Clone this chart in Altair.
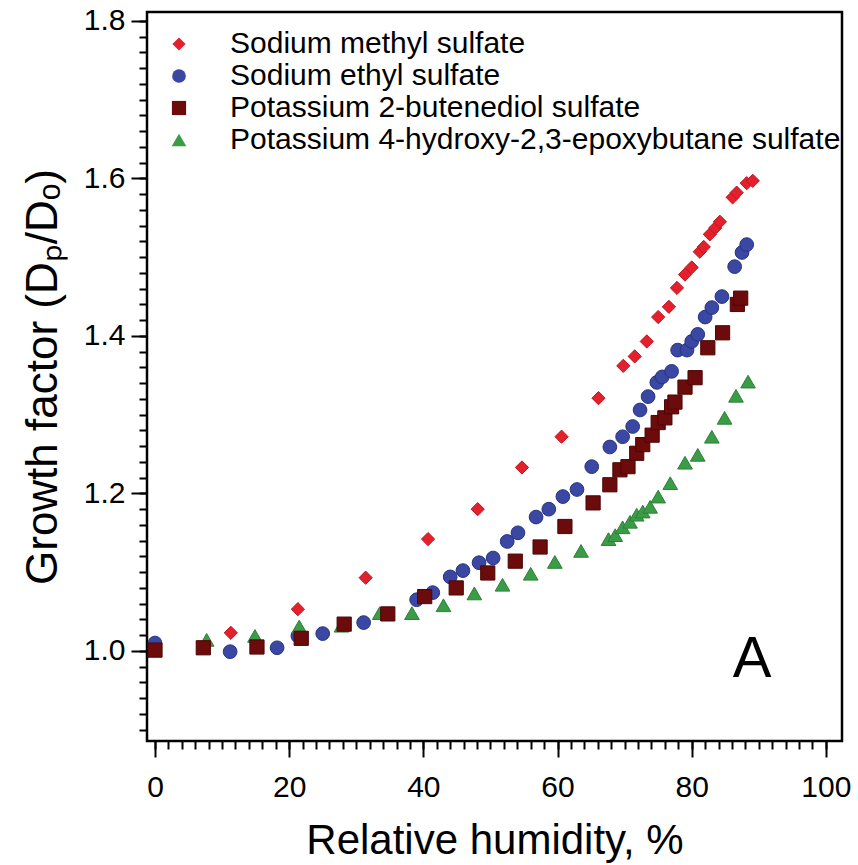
import altair as alt
import pandas as pd

series = [
    "Sodium methyl sulfate",
    "Sodium ethyl sulfate",
    "Potassium 2-butenediol sulfate",
    "Potassium 4-hydroxy-2,3-epoxybutane sulfate",
]
fill_colors = ["#e3202c", "#3a47a3", "#6c0b0b", "#3b9c47"]
stroke_colors = ["#c0161f", "#27337f", "#4d0606", "#2e8038"]
shapes = ["diamond", "circle", "square", "triangle-up"]
sizes = [175, 215, 205, 190]

# Sodium methyl sulfate
rh_methyl = [11.3, 21.3, 31.4, 40.7, 48.1, 54.7, 60.6, 66.1, 69.8, 71.5, 73.3, 75.0, 76.6,
             77.8, 79.0, 80.0, 81.2, 81.8, 82.7, 83.5, 84.2, 86.1, 86.7, 88.2, 89.1]
gf_methyl = [1.023, 1.053, 1.093, 1.142, 1.180, 1.233, 1.272, 1.321, 1.362, 1.374, 1.393, 1.424, 1.437,
             1.461, 1.478, 1.487, 1.507, 1.513, 1.529, 1.537, 1.545, 1.576, 1.582, 1.594, 1.597]

# Sodium ethyl sulfate
rh_ethyl = [0.0, 11.2, 18.2, 21.3, 25.0, 31.1, 39.0, 41.4, 44.0, 45.9, 48.3, 50.4, 52.5, 54.1,
            56.8, 58.7, 60.8, 62.9, 65.1, 67.8, 69.7, 71.2, 72.3, 73.5, 74.8, 75.6, 77.0, 77.9,
            79.3, 80.0, 80.9, 82.0, 83.0, 84.5, 86.4, 87.5, 88.2]
gf_ethyl = [1.010, 0.999, 1.004, 1.019, 1.022, 1.036, 1.065, 1.074, 1.094, 1.102, 1.112, 1.118, 1.139, 1.150,
            1.170, 1.180, 1.196, 1.205, 1.234, 1.259, 1.272, 1.285, 1.306, 1.323, 1.341, 1.348, 1.355, 1.382,
            1.382, 1.393, 1.402, 1.424, 1.436, 1.450, 1.488, 1.506, 1.516]

# Potassium 2-butenediol sulfate
rh_butene = [0.0, 7.2, 15.2, 21.8, 28.2, 34.7, 40.2, 44.9, 49.6, 53.7, 57.4, 61.1, 65.3, 67.8,
             69.3, 70.5, 71.8, 72.7, 74.1, 75.0, 76.0, 77.0, 77.5, 79.0, 80.5, 82.4, 84.6, 86.8, 87.3]
gf_butene = [1.001, 1.004, 1.005, 1.016, 1.034, 1.047, 1.069, 1.080, 1.099, 1.114, 1.132, 1.158, 1.188, 1.211,
             1.230, 1.234, 1.251, 1.262, 1.274, 1.290, 1.296, 1.310, 1.316, 1.335, 1.347, 1.385, 1.404, 1.440, 1.448]

# Potassium 4-hydroxy-2,3-epoxybutane sulfate
rh_epoxy = [7.7, 14.9, 21.5, 27.8, 33.5, 38.3, 43.0, 47.6, 51.8, 56.0, 59.6, 63.5, 67.6, 68.6,
            69.7, 70.8, 71.8, 72.7, 73.8, 75.0, 76.8, 79.0, 80.9, 83.0, 84.9, 86.6, 88.4]
gf_epoxy = [1.014, 1.019, 1.031, 1.032, 1.048, 1.048, 1.058, 1.073, 1.084, 1.098, 1.113, 1.127, 1.142, 1.147,
            1.157, 1.164, 1.173, 1.177, 1.183, 1.196, 1.213, 1.239, 1.249, 1.272, 1.296, 1.324, 1.342]

x_major = [0, 20, 40, 60, 80, 100]
x_minor = list(range(0, 101, 2))
y_major = [1.0, 1.2, 1.4, 1.6, 1.8]
y_minor = [round(0.9 + 0.02 * i, 2) for i in range(46)]

# draw order: methyl, ethyl, epoxy, butene (squares on top)
rows = []
for name, xs, ys in [
    (series[0], rh_methyl, gf_methyl),
    (series[1], rh_ethyl, gf_ethyl),
    (series[3], rh_epoxy, gf_epoxy),
    (series[2], rh_butene, gf_butene),
]:
    for x, y in zip(xs, ys):
        rows.append({"series": name, "rh": x, "gf": y})
df = pd.DataFrame(rows)

FONT = "Liberation Sans"
xscale = alt.Scale(domain=[-1.19, 102.4], nice=False, zero=False)
yscale = alt.Scale(domain=[0.8856, 1.8114], nice=False, zero=False)

legend = alt.Legend(
    title=None, orient="none", legendX=17, legendY=17, padding=0,
    labelFont=FONT, labelFontSize=30, labelColor="black", labelLimit=0,
    labelOffset=36, rowPadding=2, symbolSize=180, symbolStrokeWidth=0,
)

points = alt.Chart(df).mark_point(filled=True, opacity=1, strokeWidth=1).encode(
    x=alt.X("rh:Q", scale=xscale, axis=alt.Axis(
        orient="bottom", values=x_major, format="d", domain=False, grid=False,
        tickSize=16, tickWidth=2, tickColor="black",
        labelFont=FONT, labelFontSize=30, labelColor="black", labelPadding=15,
        title="Relative humidity, %", titleFont=FONT, titleFontSize=42,
        titleFontWeight="normal", titleColor="black", titlePadding=18)),
    y=alt.Y("gf:Q", scale=yscale, axis=alt.Axis(
        orient="left", values=y_major, format=".1f", domain=False, grid=False,
        tickSize=16, tickWidth=2, tickColor="black",
        labelFont=FONT, labelFontSize=30, labelColor="black", labelPadding=6,
        title="Growth factor (Dₚ/Dₒ)", titleFont=FONT, titleFontSize=44,
        titleFontWeight="normal", titleColor="black", titlePadding=18)),
    color=alt.Color("series:N", scale=alt.Scale(domain=series, range=fill_colors), legend=legend),
    shape=alt.Shape("series:N", scale=alt.Scale(domain=series, range=shapes), legend=legend),
    stroke=alt.Stroke("series:N", scale=alt.Scale(domain=series, range=stroke_colors), legend=None),
    size=alt.Size("series:N", scale=alt.Scale(domain=series, range=sizes), legend=None),
)

minor = alt.Chart(df).mark_point(opacity=0).encode(
    x=alt.X("rh:Q", scale=xscale, axis=alt.Axis(
        orient="bottom", values=x_minor, labels=False, domain=False, grid=False,
        tickSize=8, tickWidth=2, tickColor="black", title=None)),
    y=alt.Y("gf:Q", scale=yscale, axis=alt.Axis(
        orient="left", values=y_minor, labels=False, domain=False, grid=False,
        tickSize=8, tickWidth=2, tickColor="black", title=None)),
)

label_a = alt.Chart(pd.DataFrame({"t": ["A"]})).mark_text(
    font=FONT, fontSize=58, color="black", align="center", baseline="middle"
).encode(text="t:N", x=alt.value(605), y=alt.value(648))

chart = alt.layer(minor, points, label_a).resolve_axis(
    x="independent", y="independent"
).properties(
    width=695, height=729,
    autosize=alt.AutoSizeParams(type="none"),
    padding={"left": 147, "top": 12, "right": 16, "bottom": 124},
    background="white",
).configure_view(stroke="black", strokeWidth=2.5)

chart.save("out.html", embed_options={"renderer": "svg", "actions": False})
